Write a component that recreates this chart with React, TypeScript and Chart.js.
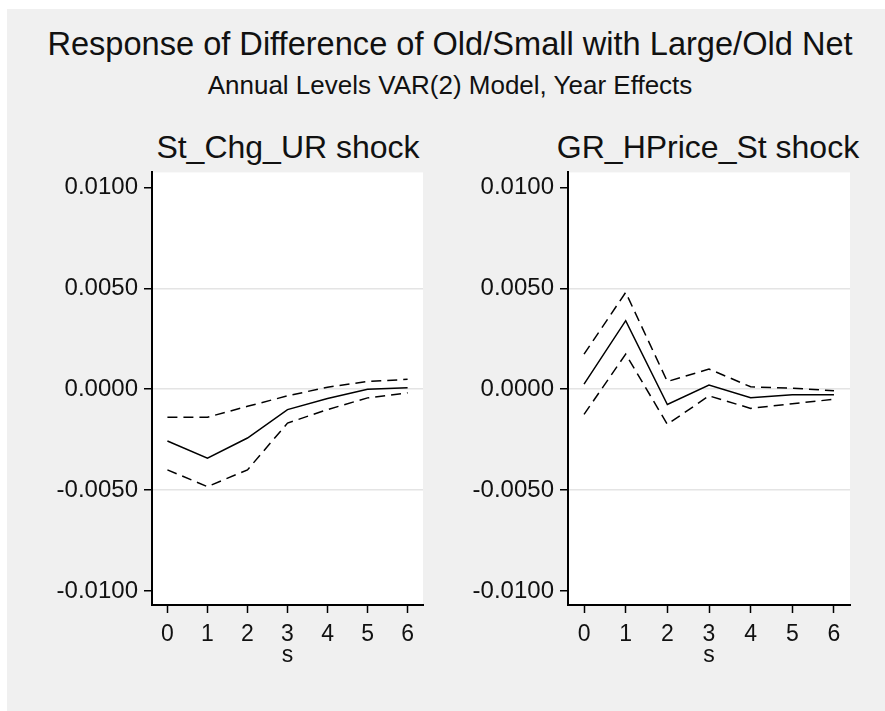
import React, { useEffect, useRef } from "react";
import { Chart, registerables } from "chart.js";

Chart.register(...registerables);

const FONT = '"Liberation Sans", Arial, sans-serif';

const mainTitle = "Response of Difference of Old/Small with Large/Old Net";
const subTitle = "Annual Levels VAR(2) Model, Year Effects";
const xAxisTitle = "s";

const horizons = [0, 1, 2, 3, 4, 5, 6];
const xTickValues = [0, 1, 2, 3, 4, 5, 6];
const yTickValues = [-0.01, -0.005, 0, 0.005, 0.01];

const urTitle = "St_Chg_UR shock";
const urResponse = [-0.00257, -0.00342, -0.00242, -0.00101, -0.00046, 0.0, 0.00007];
const urUpper = [-0.00139, -0.00139, -0.00085, -0.00033, 0.0001, 0.00038, 0.00049];
const urLower = [-0.004, -0.00483, -0.004, -0.00168, -0.00101, -0.00043, -0.00018];

const hpTitle = "GR_HPrice_St shock";
const hpResponse = [0.00025, 0.0034, -0.00076, 0.00021, -0.00042, -0.00028, -0.00028];
const hpUpper = [0.00174, 0.0048, 0.00038, 0.001, 0.00012, 0.00005, -0.00008];
const hpLower = [-0.00125, 0.00174, -0.00174, -0.00033, -0.00095, -0.00072, -0.0005];

const plotBg = {
  id: "plotBg",
  beforeDraw(chart: any) {
    const { ctx, chartArea: a } = chart;
    ctx.save();
    ctx.fillStyle = "#ffffff";
    ctx.fillRect(a.left, a.top, a.right - a.left, a.bottom - a.top);
    ctx.restore();
  },
};

type PanelProps = {
  left: number;
  width: number;
  rightPad: number;
  response: number[];
  upper: number[];
  lower: number[];
};

function Panel({ left, width, rightPad, response, upper, lower }: PanelProps) {
  const ref = useRef<HTMLCanvasElement>(null);
  useEffect(() => {
    const mk = (vals: number[], dashed: boolean) => ({
      data: horizons.map((h, i) => ({ x: h, y: vals[i] })),
      borderColor: "#000",
      borderWidth: 1.5,
      borderDash: dashed ? [10, 6] : [],
      pointRadius: 0,
      fill: false,
      tension: 0,
    });
    const chart = new Chart(ref.current as HTMLCanvasElement, {
      type: "line",
      data: { datasets: [mk(upper, true), mk(response, false), mk(lower, true)] as any },
      options: {
        animation: false,
        responsive: false,
        maintainAspectRatio: false,
        layout: { padding: { top: 20, left: 0, right: rightPad, bottom: 17 } },
        plugins: {
          legend: { display: false },
          title: { display: false },
          tooltip: { enabled: false },
        },
        scales: {
          x: {
            type: "linear",
            min: -0.385,
            max: 6.385,
            afterBuildTicks: (s: any) => {
              s.ticks = xTickValues.map((v) => ({ value: v }));
            },
            afterFit: (s: any) => {
              s.height = 70;
            },
            grid: {
              drawOnChartArea: false,
              color: "#000",
              tickColor: "#000",
              tickLength: 8,
              tickWidth: 1.5,
            },
            border: { color: "#000", width: 2 },
            ticks: {
              color: "#111",
              font: { family: FONT, size: 23 },
              padding: 8,
              maxRotation: 0,
              callback: (v: any) => String(v),
            },
            title: {
              display: true,
              text: xAxisTitle,
              color: "#111",
              font: { family: FONT, size: 23 },
              padding: { top: 0, bottom: 6 },
            },
          },
          y: {
            type: "linear",
            min: -0.0107,
            max: 0.01075,
            afterBuildTicks: (s: any) => {
              s.ticks = yTickValues.map((v) => ({ value: v }));
            },
            afterFit: (s: any) => {
              s.width = 112;
            },
            grid: {
              color: (ctx: any) =>
                ctx.tick && Math.abs(ctx.tick.value) < 0.009 ? "#e4e4e4" : "rgba(0,0,0,0)",
              lineWidth: 1.5,
              tickColor: "#000",
              tickLength: 8,
              tickWidth: 1.5,
            },
            border: { color: "#000", width: 2 },
            ticks: {
              color: "#111",
              font: { family: FONT, size: 24 },
              padding: 6,
              callback: (v: any) => Number(v).toFixed(4),
            },
          },
        },
      },
      plugins: [plotBg],
    } as any);
    return () => chart.destroy();
  }, []);
  return (
    <canvas
      ref={ref}
      width={width}
      height={540}
      style={{ position: "absolute", left, top: 152, width, height: 540 }}
    />
  );
}

const textStyle = (size: number, top: number, center: number): React.CSSProperties => ({
  position: "absolute",
  left: center - 440,
  width: 880,
  top,
  textAlign: "center",
  fontFamily: FONT,
  fontSize: size,
  lineHeight: `${size}px`,
  color: "#111",
  whiteSpace: "nowrap",
});

export default function App() {
  return (
    <div style={{ position: "absolute", left: 0, top: 0, width: 885, height: 711, overflow: "hidden" }}>
      <div style={{ position: "absolute", left: 7, top: 9, width: 878, height: 702, background: "#f0f0f0" }} />
      <div style={textStyle(32.6, 27.5, 450)}>{mainTitle}</div>
      <div style={textStyle(26, 72, 450)}>{subTitle}</div>
      <div style={textStyle(32, 131, 288)}>{urTitle}</div>
      <div style={textStyle(32, 131, 708)}>{hpTitle}</div>
      <Panel left={40} width={400} rightPad={17} response={urResponse} upper={urUpper} lower={urLower} />
      <Panel left={456} width={420} rightPad={26} response={hpResponse} upper={hpUpper} lower={hpLower} />
    </div>
  );
}
